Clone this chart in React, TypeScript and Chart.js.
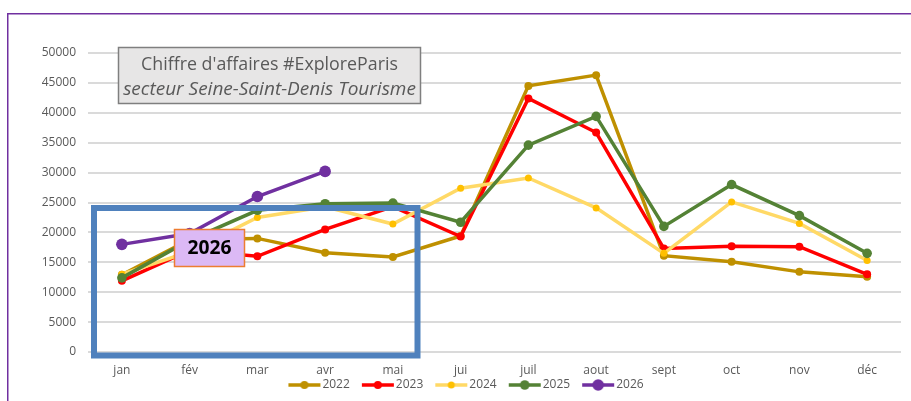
import React, { useEffect, useRef } from 'react';
import { Chart, registerables } from 'chart.js';

Chart.register(...registerables);

const months = ['jan', 'fév', 'mar', 'avr', 'mai', 'jui', 'juil', 'aout', 'sept', 'oct', 'nov', 'déc'];
const years = ['2022', '2023', '2024', '2025', '2026'];

const v2022 = [12900, 18800, 19000, 16600, 15900, 19400, 44500, 46300, 16100, 15100, 13400, 12600];
const v2023 = [11900, 17000, 16000, 20500, 24300, 19300, 42400, 36700, 17300, 17700, 17600, 13000];
const v2024 = [13000, 16800, 22500, 24300, 21400, 27400, 29100, 24100, 16500, 25100, 21500, 15300];
const v2025 = [12400, 18700, 23700, 24800, 24900, 21700, 34600, 39400, 21000, 28000, 22800, 16500];
const v2026 = [18000, 19800, 26000, 30200];

const yTicksMax = 50000;
const yTicksStep = 5000;

const titleLine1 = "Chiffre d'affaires #ExploreParis";
const titleLine2 = 'secteur Seine-Saint-Denis Tourisme';
const boxLabel = '2026';

const series = [v2022, v2023, v2024, v2025, v2026];
const lineColors = ['#BF9000', '#FF0000', '#FFD966', '#548235', '#7030A0'];
const pointColors = ['#BF9000', '#FF0000', '#FFC000', '#548235', '#7030A0'];
const pointRadii = [4, 4, 3.5, 4.8, 5.8];

const FONT = '"Open Sans", "Noto Sans", sans-serif';
const GRAY = '#595959';

function fitSize(ctx: CanvasRenderingContext2D, text: string, style: string, target: number) {
  ctx.font = `${style} 20px ${FONT}`;
  const w = ctx.measureText(text).width;
  return (20 * target) / w;
}

// legend icon: image is centred on the legend box; the line sits on its right half
function legendIcon(line: string, point: string, r: number) {
  const c = document.createElement('canvas');
  c.width = 60;
  c.height = 14;
  const g = c.getContext('2d')!;
  g.strokeStyle = line;
  g.lineWidth = 3.5;
  g.beginPath();
  g.moveTo(21, 7);
  g.lineTo(53, 7);
  g.stroke();
  g.fillStyle = point;
  g.beginPath();
  g.arc(37, 7, r, 0, Math.PI * 2);
  g.fill();
  return c;
}

const decoPlugin = {
  id: 'deco',
  beforeDraw(chart: any) {
    const ctx = chart.ctx as CanvasRenderingContext2D;
    ctx.save();
    ctx.strokeStyle = '#7030A0';
    ctx.lineWidth = 1.5;
    ctx.beginPath();
    ctx.moveTo(7.75, 401);
    ctx.lineTo(7.75, 13.75);
    ctx.lineTo(911, 13.75);
    ctx.stroke();
    ctx.restore();
  },
  afterDraw(chart: any) {
    const ctx = chart.ctx as CanvasRenderingContext2D;
    ctx.save();
    // title box
    ctx.fillStyle = '#E7E6E6';
    ctx.fillRect(118, 47, 303, 57);
    ctx.strokeStyle = '#7F7F7F';
    ctx.lineWidth = 1.5;
    ctx.strokeRect(118.5, 47.5, 302, 56);
    ctx.fillStyle = GRAY;
    ctx.textAlign = 'center';
    ctx.textBaseline = 'middle';
    const s1 = fitSize(ctx, titleLine1, 'normal', 257);
    ctx.font = `normal ${s1}px ${FONT}`;
    ctx.fillText(titleLine1, 269.5, 65);
    const s2 = fitSize(ctx, titleLine2, 'italic', 293);
    ctx.font = `italic ${s2}px ${FONT}`;
    ctx.fillText(titleLine2, 269.5, 90);

    // blue frame
    ctx.strokeStyle = '#4F81BD';
    ctx.lineWidth = 6;
    ctx.strokeRect(94, 208, 323.5, 147.5);

    // 2026 label
    ctx.fillStyle = '#DCB9F5';
    ctx.fillRect(174, 229, 71, 38);
    ctx.strokeStyle = '#ED7D31';
    ctx.lineWidth = 1.5;
    ctx.strokeRect(174.5, 229.5, 70, 37);
    ctx.fillStyle = '#000000';
    const s3 = fitSize(ctx, boxLabel, 'bold', 44);
    ctx.font = `bold ${s3}px ${FONT}`;
    ctx.fillText(boxLabel, 209.5, 248.5);
    ctx.restore();
  },
};

export default function App() {
  const ref = useRef<HTMLCanvasElement>(null);

  useEffect(() => {
    document.body.style.margin = '0';
    const icons = years.map((_, i) => legendIcon(lineColors[i], pointColors[i], pointRadii[i]));
    const chart = new Chart(ref.current!, {
      type: 'line',
      data: {
        labels: months,
        datasets: years.map((y, i) => ({
          label: y,
          data: series[i],
          borderColor: lineColors[i],
          backgroundColor: pointColors[i],
          pointBackgroundColor: pointColors[i],
          pointBorderColor: pointColors[i],
          pointBorderWidth: 0,
          pointRadius: pointRadii[i],
          borderWidth: 3.5,
          tension: 0,
          order: years.length - i,
          yAxisID: 'y',
        })),
      },
      options: {
        responsive: false,
        devicePixelRatio: 1,
        animation: false,
        layout: { padding: { left: 11, right: 0, top: 53, bottom: 0 } },
        scales: {
          x: {
            offset: true,
            grid: { display: false, drawTicks: false },
            border: { display: false },
            ticks: { color: GRAY, font: { family: FONT, size: 12 }, padding: 11, maxRotation: 0, autoSkip: false },
            afterFit(s: any) {
              s.height = 25;
            },
          },
          y: {
            min: 0,
            max: yTicksMax,
            ticks: {
              stepSize: yTicksStep,
              color: GRAY,
              font: { family: FONT, size: 12 },
              padding: 12,
              callback: (v: any) => String(v),
            },
            grid: { color: '#DADADA', lineWidth: 2, drawTicks: false },
            border: { display: false },
            afterFit(s: any) {
              s.width = 77;
            },
          },
          y2: {
            position: 'right',
            display: true,
            grid: { display: false, drawTicks: false },
            ticks: { display: false },
            border: { display: false },
            afterFit(s: any) {
              s.width = 10;
            },
          },
        },
        plugins: {
          tooltip: { enabled: false },
          title: { display: false },
          legend: {
            position: 'bottom',
            labels: {
              usePointStyle: true,
              pointStyleWidth: 38,
              boxHeight: 12,
              padding: 2,
              color: GRAY,
              font: { family: FONT, size: 12 },
              sort: (a: any, b: any) => a.datasetIndex - b.datasetIndex,
              generateLabels(c: any) {
                const items = (Chart.defaults.plugins.legend.labels as any).generateLabels(c);
                return items.map((it: any) => ({ ...it, pointStyle: icons[it.datasetIndex] }));
              },
            },
          },
        },
      } as any,
      plugins: [decoPlugin],
    });
    return () => chart.destroy();
  }, []);

  return (
    <div style={{ width: 911, height: 401, position: 'relative' }}>
      <canvas ref={ref} width={911} height={401} style={{ display: 'block' }} />
    </div>
  );
}
